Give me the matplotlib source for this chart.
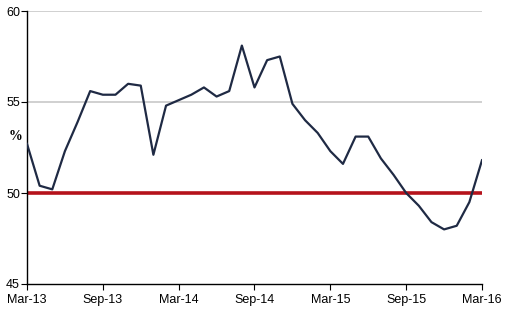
import matplotlib
matplotlib.use("Agg")
import matplotlib.pyplot as plt

plt.rcParams['font.family'] = ['Liberation Sans', 'DejaVu Sans']

# monthly index, Mar-13 .. Mar-16
values = [52.7, 50.4, 50.2, 52.3, 53.9, 55.6, 55.4, 55.4, 56.0, 55.9,
          52.1, 54.8, 55.1, 55.4, 55.8, 55.3, 55.6, 58.1, 55.8, 57.3,
          57.5, 54.9, 54.0, 53.3, 52.3, 51.6, 53.1, 53.1, 51.9, 51.0,
          50.0, 49.3, 48.4, 48.0, 48.2, 49.5, 51.8]
tick_labels = ['Mar-13', 'Sep-13', 'Mar-14', 'Sep-14', 'Mar-15', 'Sep-15', 'Mar-16']
y_ticks = [45, 50, 55, 60]
threshold = 50

W, H = 509, 316
fig = plt.figure(figsize=(W / 100, H / 100), dpi=100)
ax = fig.add_axes([27 / W, 1 - 284 / H, (482 - 27) / W, (284 - 11) / H])

months = list(range(len(values)))
for y in [55, 60]:
    ax.axhline(y, color='#c8c8c8', lw=1.2, zorder=1)
ax.axhline(threshold, color='#b5121b', lw=2.6, zorder=2)
ax.plot(months, values, color='#1f2a44', lw=1.6, zorder=3)

ax.set_xlim(0, len(values) - 1)
ax.set_ylim(45, 60)
ax.set_xticks(range(0, len(values), 6))
ax.set_xticklabels(tick_labels, fontsize=9)
ax.set_yticks(y_ticks)
ax.set_yticklabels([str(v) for v in y_ticks], fontsize=9)
ax.tick_params(axis='both', direction='out', length=4, width=0.8, colors='black', pad=1)
ax.tick_params(axis='x', pad=3)

for s in ['top', 'right']:
    ax.spines[s].set_visible(False)
for s in ['left', 'bottom']:
    ax.spines[s].set_linewidth(1.0)

fig.text(15 / W, 1 - 137 / H, '%', fontsize=10, fontweight='bold',
         family='Liberation Serif', ha='center', va='center')

fig.savefig('out.png', dpi=100)
